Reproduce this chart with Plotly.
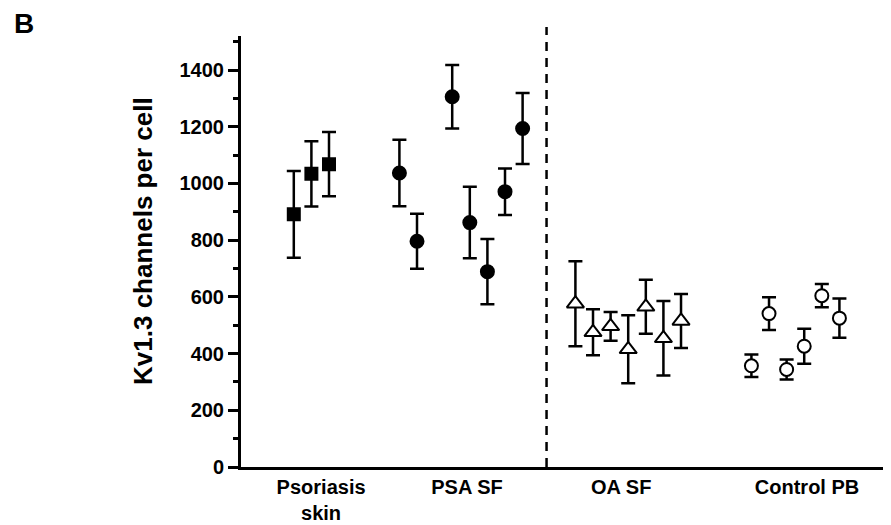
import plotly.graph_objects as go

# ---- data ----
psoriasis_x = [3, 4, 5]
psoriasis_y = [891, 1034, 1068]
psoriasis_err = [153, 115, 113]

psa_x = [9, 10, 12, 13, 14, 15, 16]
psa_y = [1037, 796, 1306, 862, 689, 971, 1194]
psa_err = [117, 97, 112, 126, 115, 82, 125]

oa_x = [19, 20, 21, 22, 23, 24, 25]
oa_y = [576, 475, 496, 415, 565, 454, 515]
oa_err = [150, 81, 51, 120, 95, 131, 95]

ctrl_x = [29, 30, 31, 32, 33, 34]
ctrl_y = [357, 541, 344, 426, 604, 525]
ctrl_err = [40, 58, 35, 62, 41, 69]

group_labels = ["Psoriasis<br>skin", "PSA SF", "OA SF", "Control PB"]
group_label_pos = [4.55, 12.84, 21.6, 32.16]
divider_x = 17.36

FONT = "Liberation Sans, Arial, sans-serif"

fig = go.Figure()

def add_series(x, y, err, symbol, size, fill):
    fig.add_trace(go.Scatter(
        x=x, y=y, mode="markers",
        marker=dict(symbol=symbol, size=size, color=fill,
                    line=dict(color="black", width=2)),
        error_y=dict(type="data", array=err, visible=True,
                     color="black", thickness=2.5, width=7),
        showlegend=False, cliponaxis=False,
    ))

add_series(psoriasis_x, psoriasis_y, psoriasis_err, "square", 12, "black")
add_series(psa_x, psa_y, psa_err, "circle", 13, "black")
add_series(oa_x, oa_y, oa_err, "triangle-up", 15, "white")
add_series(ctrl_x, ctrl_y, ctrl_err, "circle", 13, "white")

fig.add_shape(type="line", xref="x", yref="paper",
              x0=divider_x, x1=divider_x, y0=0, y1=1.021,
              line=dict(color="black", width=2.5, dash="9px,7px"))

fig.add_annotation(text="B", xref="paper", yref="paper",
                   x=-0.354, y=1.069,
                   xanchor="left", yanchor="top", showarrow=False,
                   font=dict(family=FONT, size=28, color="black", weight=700))

# y-axis title, placed as in the reference (slightly above the plot's centre)
fig.add_annotation(text="Kv1.3 channels per cell", xref="paper", yref="paper",
                   x=-0.1515, y=0.5244, xanchor="center", yanchor="middle",
                   textangle=-90, showarrow=False,
                   font=dict(family=FONT, size=26, color="black", weight=700))

# page body adds an 8px offset; figure sized so the plot lands where the reference's does
fig.update_layout(
    width=883, height=517,
    margin=dict(l=233, r=3, t=28, b=58),
    paper_bgcolor="white", plot_bgcolor="white",
    font=dict(family=FONT, color="black", weight=700),
    xaxis=dict(range=[0, 36.76], showline=True, linewidth=3, linecolor="black",
               showgrid=False, zeroline=False, ticks="", automargin=False,
               tickvals=group_label_pos, ticktext=group_labels,
               tickfont=dict(size=20, family=FONT, weight=700)),
    yaxis=dict(range=[0, 1520], showline=True, linewidth=3, linecolor="black",
               showgrid=False, zeroline=False, automargin=False,
               ticks="outside", ticklen=10, tickwidth=2.5, tickcolor="black",
               tick0=0, dtick=200,
               minor=dict(dtick=100, ticks="outside", ticklen=5,
                          tickwidth=2.5, tickcolor="black", showgrid=False),
               tickfont=dict(size=20, family=FONT, weight=700)),
)

fig.write_html("out.html")
